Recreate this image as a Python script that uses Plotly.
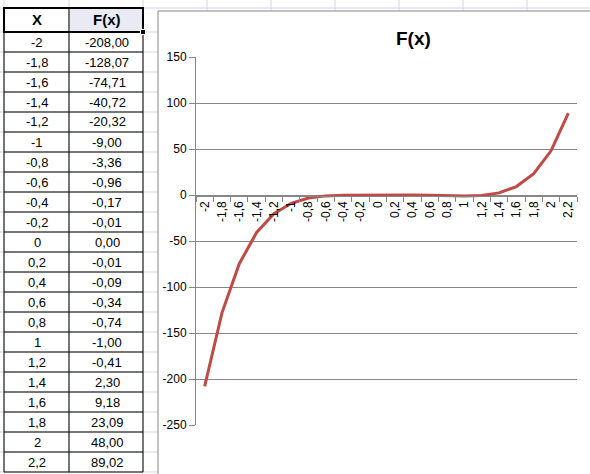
import plotly.graph_objects as go

# ---- data ----
x_labels = ["-2", "-1,8", "-1,6", "-1,4", "-1,2", "-1", "-0,8", "-0,6", "-0,4", "-0,2", "0",
            "0,2", "0,4", "0,6", "0,8", "1", "1,2", "1,4", "1,6", "1,8", "2", "2,2"]
fx_values = [-208.00, -128.07, -74.71, -40.72, -20.32, -9.00, -3.36, -0.96, -0.17, -0.01, 0.00,
             -0.01, -0.09, -0.34, -0.74, -1.00, -0.41, 2.30, 9.18, 23.09, 48.00, 89.02]
y_tickvals = [150, 100, 50, 0, -50, -100, -150, -200, -250]
y_ticktext = ["150", "100", "50", "0", "-50", "-100", "-150", "-200", "-250"]
header = ["X", "F(x)"]
title_text = "F(x)"

# ---- geometry helpers (pixel -> paper) ----
W, H = 590, 474
L, R, T, B = 196, 13, 57, 49
PW, PH = W - L - R, H - T - B


def px(x):
    return (x - L) / PW


def py(y):
    return (H - B - y) / PH


SHEET_GRID = "#d0d7e5"
AXIS_GRAY = "#868686"
FONT = "Liberation Sans"

fig = go.Figure()
fig.add_trace(go.Scatter(
    x=x_labels, y=fx_values, mode="lines",
    line=dict(color="#be4b48", width=3), showlegend=False, hoverinfo="x+y"))

shapes = []
# Excel sheet gridlines
row_ys = [8] + [32 + 20 * k for k in range(23)]
for yy in row_ys:
    shapes.append(dict(type="line", xref="paper", yref="paper", x0=px(0), x1=px(W),
                       y0=py(yy), y1=py(yy), line=dict(color=SHEET_GRID, width=1), layer="below"))
for xx in [4, 69, 143, 207, 271, 335, 399, 463, 527]:
    shapes.append(dict(type="line", xref="paper", yref="paper", x0=px(xx), x1=px(xx),
                       y0=py(0), y1=py(H), line=dict(color=SHEET_GRID, width=1), layer="below"))
# chart area
shapes.append(dict(type="rect", xref="paper", yref="paper", x0=px(158), x1=px(W + 5),
                   y0=py(H + 5), y1=py(11), fillcolor="white",
                   line=dict(color=AXIS_GRAY, width=1), layer="below"))
# table header fill for F(x)
shapes.append(dict(type="rect", xref="paper", yref="paper", x0=px(69), x1=px(143),
                   y0=py(32), y1=py(8), fillcolor="#e8ebf3", line=dict(width=0), layer="below"))
# table lines
for yy in [32 + 20 * k for k in range(23)]:
    shapes.append(dict(type="line", xref="paper", yref="paper", x0=px(4), x1=px(143),
                       y0=py(yy), y1=py(yy), line=dict(color="black", width=1), layer="above"))
for xx in [4, 69, 143]:
    shapes.append(dict(type="line", xref="paper", yref="paper", x0=px(xx), x1=px(xx),
                       y0=py(8), y1=py(472), line=dict(color="black", width=1), layer="above"))
# header selection border
shapes.append(dict(type="rect", xref="paper", yref="paper", x0=px(4), x1=px(143),
                   y0=py(32), y1=py(8), line=dict(color="black", width=2), layer="above"))
shapes.append(dict(type="rect", xref="paper", yref="paper", x0=px(140.5), x1=px(145.5),
                   y0=py(34.5), y1=py(29.5), fillcolor="black", line=dict(color="white", width=1),
                   layer="above"))

annotations = []
annotations.append(dict(xref="paper", yref="paper", x=px(37), y=py(20), text="<b>%s</b>" % header[0],
                        showarrow=False, font=dict(family=FONT, size=15, color="black"),
                        xanchor="center", yanchor="middle"))
annotations.append(dict(xref="paper", yref="paper", x=px(107), y=py(20), text="<b>%s</b>" % header[1],
                        showarrow=False, font=dict(family=FONT, size=15, color="black"),
                        xanchor="center", yanchor="middle"))
for i, (xl, fv) in enumerate(zip(x_labels, fx_values)):
    yc = 42 + 20 * i
    annotations.append(dict(xref="paper", yref="paper", x=px(37), y=py(yc), text=xl,
                            showarrow=False, font=dict(family=FONT, size=13, color="black"),
                            xanchor="center", yanchor="middle"))
    ftxt = ("%.2f" % fv).replace(".", ",")
    if ftxt == "-0,00":
        ftxt = "0,00"
    annotations.append(dict(xref="paper", yref="paper", x=px(107), y=py(yc), text=ftxt,
                            showarrow=False, font=dict(family=FONT, size=13, color="black"),
                            xanchor="center", yanchor="middle"))
annotations.append(dict(xref="paper", yref="paper", x=px(413), y=py(38), text="<b>%s</b>" % title_text,
                        showarrow=False, font=dict(family=FONT, size=19, color="black"),
                        xanchor="center", yanchor="middle"))

fig.update_layout(
    width=W, height=H, autosize=False,
    margin=dict(l=L, r=R, t=T, b=B, pad=0),
    paper_bgcolor="white", plot_bgcolor="rgba(0,0,0,0)",
    showlegend=False,
    shapes=shapes, annotations=annotations,
    xaxis=dict(type="category", categoryorder="array", categoryarray=x_labels,
               range=[-0.5, len(x_labels) - 0.5],
               anchor="free", position=py(195.5), showline=True, linecolor=AXIS_GRAY, linewidth=1,
               ticks="outside", tickson="boundaries", ticklen=5, tickcolor=AXIS_GRAY, tickwidth=1,
               tickangle=-90, showgrid=False, zeroline=False,
               tickfont=dict(family=FONT, size=12, color="black")),
    yaxis=dict(range=[-250, 150], tickmode="array", tickvals=y_tickvals, ticktext=y_ticktext,
               showline=True, linecolor=AXIS_GRAY, linewidth=1,
               ticks="outside", ticklen=6, tickcolor=AXIS_GRAY,
               showgrid=True, gridcolor=AXIS_GRAY, gridwidth=1, zeroline=False,
               tickfont=dict(family=FONT, size=12, color="black")),
)

fig.write_html("out.html", config={"displayModeBar": False},
               post_script="document.body.style.margin='0';document.body.style.overflow='hidden';")
